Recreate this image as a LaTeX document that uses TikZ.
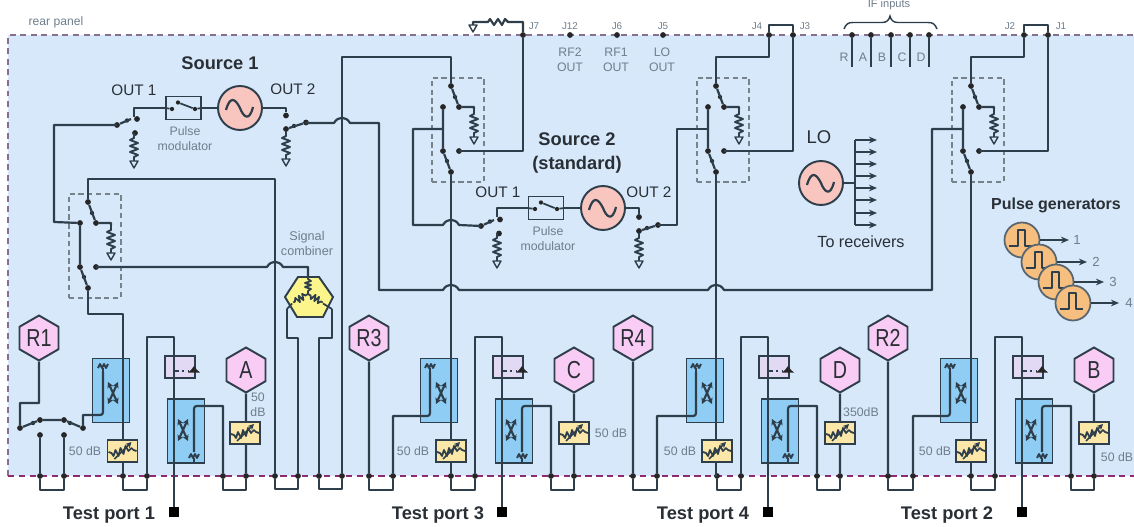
\documentclass[tikz,border=0pt]{standalone}
\usepackage{fontspec}
\setmainfont{Liberation Sans}
\usetikzlibrary{arrows.meta,shapes.geometric}
\definecolor{panel}{HTML}{D6E8FA}
\definecolor{wirec}{HTML}{2E3E4A}
\definecolor{gtxt}{HTML}{6E7E8C}
\definecolor{dtxt}{HTML}{2A2F35}
\definecolor{couc}{HTML}{8FCDF4}
\definecolor{lavc}{HTML}{E2DAF5}
\definecolor{attc}{HTML}{FBE7A8}
\definecolor{hexc}{HTML}{F9CCF5}
\definecolor{oscc}{HTML}{F8C6BE}
\definecolor{pgc}{HTML}{F6BF80}
\definecolor{cmbc}{HTML}{FBF58C}
\definecolor{topd}{HTML}{86708A}
\definecolor{botd}{HTML}{8C2A72}
\tikzset{
 wire/.style={draw=wirec,line width=1.25pt,line join=round},
 thinw/.style={draw=wirec,line width=0.8pt,line join=round},
 dot/.style={circle,fill=black!85,inner sep=0,minimum size=0.115cm},
 smalldot/.style={circle,fill=black!85,inner sep=0,minimum size=0.085cm},
 coup/.style={rectangle,draw=wirec,line width=1.1pt,fill=couc,inner sep=0,minimum width=0.74cm,minimum height=1.28cm},
 lav/.style={rectangle,draw=wirec,line width=1.1pt,fill=lavc,inner sep=0,minimum width=0.6cm,minimum height=0.44cm},
 atten/.style={rectangle,draw=wirec,line width=1.1pt,fill=attc,inner sep=0,minimum width=0.6cm,minimum height=0.45cm},
 pmod/.style={rectangle,draw=wirec,line width=1.1pt,inner sep=0,minimum width=0.7cm,minimum height=0.46cm},
 hexa/.style={regular polygon,regular polygon sides=6,shape border rotate=30,draw=wirec,line width=1.1pt,fill=hexc,inner sep=0,minimum size=0.9cm,text=dtxt,font=\fontsize{14}{14}\selectfont},
 oscil/.style={circle,draw=wirec,line width=1.1pt,fill=oscc,inner sep=0,minimum size=0.88cm},
 pgen/.style={circle,draw=wirec!80,line width=1pt,fill=pgc,inner sep=0,minimum size=0.7cm},
 swbox/.style={rectangle,draw=wirec!65,line width=0.7pt,dash pattern=on 3pt off 2pt,inner sep=0,minimum width=1.04cm,minimum height=2.08cm},
 portsq/.style={rectangle,fill=black,inner sep=0,minimum size=0.19cm},
 lab/.style={inner sep=0,align=center,text=gtxt,font=\fontsize{7}{8.6}\selectfont},
 jlab/.style={inner sep=0,text=gtxt,font=\fontsize{5.6}{6}\selectfont},
 outlab/.style={inner sep=0,text=dtxt,font=\fontsize{8.7}{10}\selectfont},
 title/.style={inner sep=0,align=center,text=dtxt,font=\fontsize{10.4}{13.4}\selectfont\bfseries},
 arr/.style={wire,-{Stealth[length=4.6pt,width=3.8pt]}},
 xarr/.style={draw=wirec,line width=1.2pt,{Stealth[length=3.4pt,width=3.6pt]}-{Stealth[length=3.4pt,width=3.6pt]}},
}
\newcommand\hop[2]{-- (#1-8,#2) .. controls (#1-4,#2-7) and (#1+4,#2-7) .. (#1+8,#2)}
\newcommand\ResLoad[2]{\begin{scope}[shift={(#1,#2)}]
 \draw[wire,line width=1.1pt] (0,0)--(0,5)--(-4,7)--(4,10)--(-4,13)--(4,16)--(-4,19)--(4,22)--(0,24)--(0,28);
 \draw[thinw] (-4,28)--(4,28)--(0,35)--cycle;
\end{scope}}
\newcommand\Sine[2]{\draw[wire,shift={(#1,#2)}] (-14,2) .. controls (-10,-12) and (-5,-10) .. (0,0) .. controls (3,8) and (9,15) .. (13,-1);}
\newcommand\SwitchBlock[3]{\begin{scope}[shift={(#2,#3)}]
 \node[swbox] (#1box) at (7,130) {};
 \node[dot] (#1t) at (0,86) {};
 \node[dot] (#1m) at (8,107) {};
 \node[dot] (#1l) at (-8,107) {};
 \coordinate (#1j) at (-8,129);
 \node[dot] (#1r) at (8,151) {};
 \node[dot] (#1c) at (-8,151) {};
 \node[dot] (#1b) at (0,172) {};
 \node[smalldot] (#1s) at (-4,161) {};
 \node[smalldot] (#1s2) at (4,97) {};
 \draw[wire] (#1t)--(#1m)--(23,107)--(23,109);
 \draw[wire] (#1l)--(#1c)--(#1b);
 \ResLoad{23}{109}
\end{scope}}
\newcommand\Load[2]{\begin{scope}[shift={(#1,#2)}]
 \draw[wire,line width=1.05pt] (0,6)--(0,2) (-5,2)--(-3,-2)--(-1,2)--(1,-2)--(3,2)--(5,-2);
\end{scope}}
\newcommand\CoupX[2]{\begin{scope}[shift={(#1,#2)}]
 \draw[xarr] (-5,-11)--(5,11);
 \draw[xarr] (5,-11)--(-5,11);
\end{scope}}
\newcommand\Atten[3]{\node[atten] (#1) at (#2,#3) {};
 \begin{scope}[shift={(#2,#3)}]
 \draw[thinw,line width=1pt] (-14,1)--(-11,2)--(-9,5)--(-7,-1)--(-4,5)--(-2,-3)--(1,3)--(3,-5)--(6,0)--(9,-3)--(11,-1)--(14,0);
 \draw[draw=wirec,line width=.9pt,-{Stealth[length=3.4pt,width=3.4pt]}] (-8,8)--(9,-9);
 \end{scope}}
\newcommand\PortCore[3]{%
 \node[coup] (#1c1) at (#2-12,390.5) {};
 \node[coup] (#1c2) at (#2+63,431) {};
 \node[lav] (#1lv) at (#2+57,367) {};
 \node[portsq] (#1port) at (#2+51,512) {};
 \node[dot] (#1d1) at (#2,476) {};
 \node[dot] (#1d2) at (#2+24,476) {};
 \node[dot] (#1d3) at (#2+100,476) {};
 \node[dot] (#1d4) at (#2+123,476) {};
 \node[hexa] (#1hex) at (#2+123,370) {\scalebox{0.8}[1]{#3}};
 \draw[wire] (#1d1) -- ++(0,14) -| (#1d2);
 \draw[wire] (#1d2) -- (#2+24,337) -- (#2+51,337) -- (#1port);
 \draw[wire] (#1d3) -- ++(0,14) -| (#1d4);
 \draw[wire] (#1d4) -- (#1hex.south);
 \draw[wire] (#1d3) -- (#2+100,406) -- (#2+77,406) .. controls (#2+71,406) .. (#2+71,412) -- (#2+71,452);
 \Load{#2+71}{456}
 \CoupX{#2+60}{430}
 \draw[wire,line width=.9pt,dash pattern=on 5pt off 2pt on 1pt off 2pt] (#2+51,367) -- (#2+51,371) -- (#2+66,371);
 \fill[black!85] (#2+65,372.5) -- (#2+77,372.5) -- (#2+74,370) -- (#2+71,366) -- (#2+68,370) -- cycle;
}
\newcommand\RPart[5]{%
 \node[hexa] (#1hr) at (#4,338) {\scalebox{0.8}[1]{#5}};
 \node[dot] (#1dr) at (#4,476) {};
 \node[dot] (#1dl) at (#3,476) {};
 \draw[wire] (#1dr) -- (#1hr.south);
 \draw[wire] (#1dr) -- ++(0,14) -| (#1dl);
 \draw[wire] (#1dl) -- (#3,416) -- (#2-27,416) .. controls (#2-21,416) .. (#2-21,410) -- (#2-21,372);
 \Load{#2-21}{366}
 \CoupX{#2-10}{393}
}
\newcommand\PulseMark[2]{\draw[wire,line width=1pt,shift={(#1,#2)}] (-13,6)--(-4,6)--(-4,-10)--(3,-10)--(3,6)--(10,6);}
\begin{document}
\begin{tikzpicture}[x=0.02cm,y=-0.02cm]
\useasboundingbox (0,0) rectangle (1134,527);
\fill[white] (0,0) rectangle (1134,527);
\fill[panel] (8,35) rectangle (1134,476);
\draw[draw=topd,line width=1pt,dash pattern=on 3.4pt off 2.6pt] (8,476) -- (8,35) -- (1134,35);
\draw[draw=botd,line width=1pt,dash pattern=on 3.6pt off 2.6pt] (8,476) -- (1134,476);

% ---------- port groups
\PortCore{pa}{123}{A}
\PortCore{pc}{451}{C}
\PortCore{pd}{717}{D}
\PortCore{pb}{971}{B}
\RPart{pc}{451}{393}{369}{R3}
\RPart{pd}{717}{657}{633}{R4}
\RPart{pb}{971}{913}{888}{R2}

% ---------- port 1 receiver switch
\node[hexa] (r1) at (39,338) {\scalebox{0.8}[1]{R1}};
\node[dot] (u1) at (20,428) {};
\node[smalldot] (u2) at (33,423) {};
\node[dot] (u3) at (40,420) {};
\node[dot] (u4) at (64,420) {};
\node[smalldot] (u5) at (70,423) {};
\node[dot] (u6) at (83,428) {};
\node[dot] (c3) at (40,435) {};
\node[dot] (c4) at (64,435) {};
\node[dot] (d3) at (40,476) {};
\node[dot] (d4) at (64,476) {};
\draw[wire] (r1.south) -- (39,403) -- (20,403) -- (u1) -- (u3) -- (u4) -- (u6);
\draw[wire] (u6) -- (83,415) -- (97,415) .. controls (103,415) .. (103,409) -- (103,372);
\Load{103}{366}
\CoupX{113}{393}
\draw[wire] (c3) -- (d3) -- ++(0,14) -| (d4) -- (c4);

% ---------- switch blocks
\SwitchBlock{swa}{88}{116}
\SwitchBlock{swb}{451}{0}
\SwitchBlock{swc}{716}{0}
\SwitchBlock{swd}{971}{0}

% ---------- source 1
\node[pmod] (pm1) at (183.5,108) {};
\node[oscil] (osc1) at (240,108) {};
\Sine{240}{108}
\node[smalldot] (pm1a) at (172,109) {};
\node[smalldot] (pm1b) at (195,109) {};
\draw[wire,line width=1pt] (pm1a) -- (pm1.west);
\draw[wire,line width=1pt] (pm1b) -- (pm1.east);
\node[smalldot] (pm1k) at (178,102.5) {};
\draw[wire,line width=1pt] (pm1k) -- (pm1b);
\node[dot] (s1a) at (117,125) {};
\node[smalldot] (s1as) at (127,120.5) {};
\node[dot] (s1b) at (137,119) {};
\node[dot] (s1c) at (135,133) {};
\node[dot] (s1d) at (286,115.5) {};
\node[dot] (s1e) at (286,129) {};
\node[smalldot] (s1f) at (294,126) {};
\node[dot] (s1g) at (306,122.5) {};
\draw[wire] (pm1.west) -- (134,108) -- (134,117);
\draw[wire] (s1a) -- (131,119);
\draw[wire] (pm1.east) -- (osc1.west);
\draw[wire] (osc1.east) -- (286,108) -- (s1d);
\draw[wire] (s1e) -- (s1g);
\ResLoad{134}{133}
\ResLoad{286}{131}
\draw[wire] (s1a.center) -- (54,125) -- (54,222) -- (swal);
\draw[wire] (s1g.center) -- (306,123) \hop{342}{123} -- (379,123) -- (379,290) \hop{451}{290} \hop{716}{290} -- (932,290) -- (932,129) -- (swdj);

% ---------- source 2
\node[pmod] (pm2) at (546,208) {};
\node[oscil] (osc2) at (603,208) {};
\Sine{603}{208}
\node[smalldot] (pm2a) at (535,209) {};
\node[smalldot] (pm2b) at (557,209) {};
\draw[wire,line width=1pt] (pm2a) -- (pm2.west);
\draw[wire,line width=1pt] (pm2b) -- (pm2.east);
\node[smalldot] (pm2k) at (541,202.5) {};
\draw[wire,line width=1pt] (pm2k) -- (pm2b);
\node[dot] (s2a) at (481,226) {};
\node[smalldot] (s2as) at (490,221.5) {};
\node[dot] (s2b) at (500,219.5) {};
\node[dot] (s2c) at (499,233.5) {};
\node[dot] (s2d) at (639,217) {};
\node[dot] (s2e) at (639,231) {};
\node[smalldot] (s2f) at (647,228) {};
\node[dot] (s2g) at (658,225) {};
\draw[wire] (pm2.west) -- (497,208) -- (497,217);
\draw[wire] (s2a) -- (494,220);
\draw[wire] (pm2.east) -- (osc2.west);
\draw[wire] (osc2.east) -- (639,208) -- (s2d);
\draw[wire] (s2e) -- (s2g);
\ResLoad{497}{233}
\ResLoad{639}{233}
\draw[wire] (s2g.center) -- (677,225) -- (677,129) -- (swcj);
\draw[wire] (swbj) -- (413,129) -- (413,225) \hop{451}{225} -- (s2a.center);

% ---------- combiner loops
\node[dot] (cb1) at (342,476) {};
\node[dot] (cb2) at (319,476) {};
\node[dot] (cb3) at (298,476) {};
\node[dot] (cb4) at (275,476) {};
\coordinate (cmbT) at (308,277);
\coordinate (cmbL) at (287,309);
\coordinate (cmbR) at (332,309);
\draw[wire] (cb1) -- ++(0,13) -| (cb2);
\draw[wire] (cb3) -- ++(0,13) -| (cb4);
\draw[wire] (cb1) -- (342,57) -| (swbt);
\draw[wire] (cb4) -- (275,179) -| (swat);
\draw[wire] (cb2) -- (319,338) -- (332,338) -- (cmbR);
\draw[wire] (cb3) -- (298,338) -- (287,338) -- (cmbL);
\fill[cmbc,draw=wirec,line width=1.1pt] (298,277) -- (319,277) -- (333,297) -- (323,317) -- (297,317) -- (285,297) -- cycle;
\draw[wire] (swar.center) \hop{275}{267} -- (308,267) -- (cmbT);
\foreach \ang in {0,120,240}{
 \draw[wire,line width=1pt,shift={(308,294)},rotate=\ang] (0,0)--(0,-3)--(3,-5)--(-3,-7)--(3,-9)--(-3,-11)--(3,-13)--(0,-15)--(0,-17);}
\draw[wire,line width=1pt] (cmbL) -- (292,303.5) (cmbR) -- (323,303.5);

% ---------- main port feeds
\draw[wire] (swab) -- (88,314) -- (123,314) -- (pad1);
\draw[wire] (swbb) -- (pcd1);
\draw[wire] (swcb) -- (716,476) -- (pdd1);
\draw[wire] (swdb) -- (pbd1);

% ---------- J connectors
\node[dot] (j7) at (523,35) {};
\node[dot] (j12) at (570,35) {};
\node[dot] (j6) at (617,35) {};
\node[dot] (j5) at (663,35) {};
\node[dot] (j4) at (769,35) {};
\node[dot] (j3) at (793,35) {};
\node[dot] (j2) at (1024,35) {};
\node[dot] (j1) at (1048,35) {};
\draw[wire] (swbr.center) -- (523,151) -- (j7);
\draw[wire] (j7) -- (523,22) -- (508,22) -- (505,19) -- (502,25) -- (498,19) -- (494,25) -- (490,19) -- (488,22) -- (473,22) -- (473,25);
\draw[thinw] (469,25) -- (477,25) -- (473,32) -- cycle;
\draw[wire] (swct) -- (716,57) -- (769,57) -- (j4);
\draw[wire] (j4) -- (769,25) -- (793,25) -- (j3);
\draw[wire] (j3) -- (793,151) -- (swcr.center);
\draw[wire] (swdt) -- (971,57) -- (1024,57) -- (j2);
\draw[wire] (j2) -- (1024,25) -- (1048,25) -- (j1);
\draw[wire] (j1) -- (1048,151) -- (swdr.center);

% ---------- IF inputs
\foreach \nm/\x in {r/852,a/871,b/891,c/910,d/929}{
 \node[dot] (if\nm) at (\x,35) {};
 \coordinate (ife\nm) at (\x,67);
 \draw[wire] (if\nm) -- (ife\nm);
}
\draw[draw=wirec,line width=.8pt] (844,29) .. controls (846,24) and (848,22.5) .. (853,22.5) -- (882,22.5) .. controls (887,22.5) and (889,20) .. (890,16) .. controls (891,20) and (893,22.5) .. (898,22.5) -- (928,22.5) .. controls (933,22.5) and (935,24) .. (937,29);
\node[lab,font=\fontsize{6.3}{7}\selectfont] (tif) at (889,4.5) {IF inputs};
\node[lab] (tr) at (844,57) {R};
\node[lab] (ta) at (863,57) {A};
\node[lab] (tb) at (882,57) {B};
\node[lab] (tc) at (902,57) {C};
\node[lab] (td) at (921,57) {D};

% ---------- LO
\node[oscil] (osc3) at (821,183) {};
\Sine{821}{183}
\coordinate (busT) at (855,140);
\coordinate (busB) at (855,225);
\coordinate (busM) at (855,183);
\draw[wire] (busT) -- (busB);
\draw[wire] (osc3.east) -- (busM);
\foreach \i/\y in {1/140,2/152,3/164,4/176,5/188,6/200,7/213,8/225}{
 \coordinate (lo\i s) at (855,\y);
 \coordinate (lo\i e) at (877,\y);
 \draw[arr] (lo\i s) -- (lo\i e);
}
\node[inner sep=0,text=dtxt,font=\fontsize{10.5}{12}\selectfont] (tlo) at (819,137) {LO};
\node[inner sep=0,text=dtxt,font=\fontsize{9.2}{11}\selectfont] (ttr) at (861,241.5) {To receivers};

% ---------- pulse generators
\node[title,font=\fontsize{9.1}{11}\selectfont\bfseries] (tpg) at (1056,205) {Pulse generators};
\node[lab,font=\fontsize{7.5}{9}\selectfont] (l1) at (1077,240) {1};
\node[lab,font=\fontsize{7.5}{9}\selectfont] (l2) at (1096,262) {2};
\node[lab,font=\fontsize{7.5}{9}\selectfont] (l3) at (1113,282) {3};
\node[lab,font=\fontsize{7.5}{9}\selectfont] (l4) at (1129,303) {4};
\foreach \i/\x/\y in {1/1022/240,2/1039/262,3/1056/282,4/1073/303}{
 \node[pgen] (pg\i) at (\x,\y) {};
 \PulseMark{\x}{\y}
}
\draw[arr] (pg1.east) -- (1069,240);
\draw[arr] (pg2.east) -- (1087,262);
\draw[arr] (pg3.east) -- (1104,282);
\draw[arr] (pg4.east) -- (1119,303);

% ---------- attenuators on top of the wires
\Atten{at1}{122.5}{451}
\Atten{at2}{245}{433}
\Atten{at3}{451}{451}
\Atten{at4}{574}{433}
\Atten{at5}{717}{451}
\Atten{at6}{840}{433}
\Atten{at7}{971}{451}
\Atten{at8}{1094}{433}

% ---------- text
\node[lab,font=\fontsize{6.9}{8}\selectfont] (trp) at (56,22.5) {rear panel};
\node[title] (ts1) at (220,63) {Source 1};
\node[outlab] (t11) at (134,90) {OUT 1};
\node[outlab] (t12) at (293,89) {OUT 2};
\node[lab] (tp1) at (185,138.5) {Pulse\\modulator};
\node[lab,font=\fontsize{7.2}{8.6}\selectfont] (tsc) at (307,243.5) {Signal\\combiner};
\node[title] (ts2) at (577,153) {Source 2\\(standard)};
\node[outlab] (t21) at (498,192) {OUT 1};
\node[outlab] (t22) at (649,192) {OUT 2};
\node[lab] (tp2) at (548,238.5) {Pulse\\modulator};
\node[jlab] (tj7) at (534,26) {J7};
\node[jlab] (tj12) at (570,26) {J12};
\node[jlab] (tj6) at (617,26) {J6};
\node[jlab] (tj5) at (663,26) {J5};
\node[jlab] (tj4) at (757,26) {J4};
\node[jlab] (tj3) at (805,26) {J3};
\node[jlab] (tj2) at (1010,26) {J2};
\node[jlab] (tj1) at (1061,26) {J1};
\node[lab] (rf2) at (570,59.5) {RF2\\OUT};
\node[lab] (rf1) at (616,59.5) {RF1\\OUT};
\node[lab] (lo1) at (662,59.5) {LO\\OUT};
\node[lab] (db1) at (85,451) {50 dB};
\node[lab] (db2) at (258,404.5) {50\\dB};
\node[lab] (db3) at (413,451) {50 dB};
\node[lab] (db4) at (611,433) {50 dB};
\node[lab] (db5) at (680,451) {50 dB};
\node[lab] (db6) at (861,412) {350dB};
\node[lab] (db7) at (935,451) {50 dB};
\node[lab] (db8) at (1117,457) {50 dB};
\node[title] (tt1) at (109,515) {Test port 1};
\node[title] (tt3) at (438,515) {Test port 3};
\node[title] (tt4) at (703,515) {Test port 4};
\node[title] (tt2) at (947,515) {Test port 2};
\end{tikzpicture}
\end{document}
